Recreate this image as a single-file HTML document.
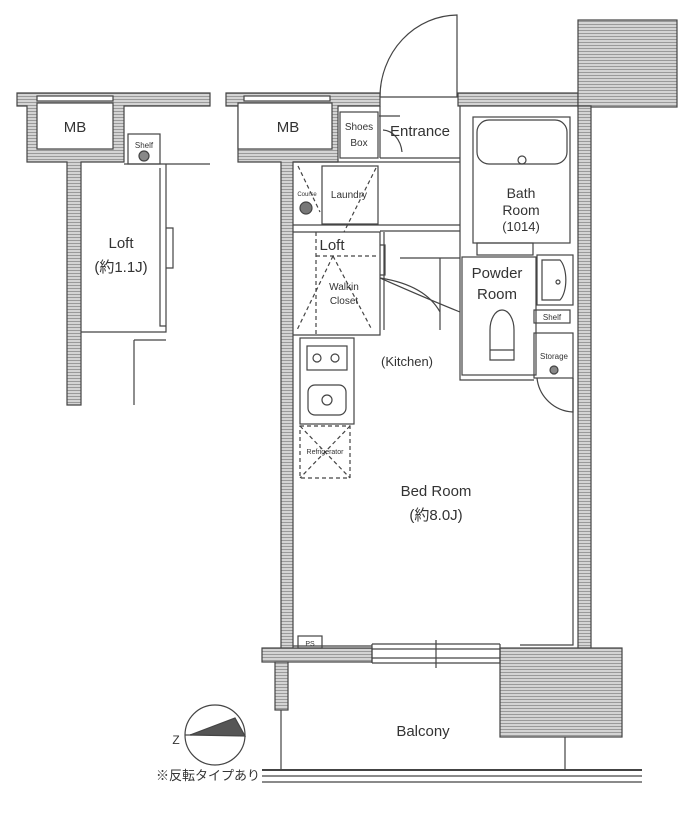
<!DOCTYPE html>
<html><head><meta charset="utf-8"><style>
html,body{margin:0;padding:0;background:#fff;}
svg{display:block;}
text{font-family:"Liberation Sans","Noto Sans CJK JP",sans-serif;fill:#333;}
</style></head><body>
<svg width="700" height="819" viewBox="0 0 700 819" xmlns="http://www.w3.org/2000/svg">
<defs>
<pattern id="h" width="4" height="3" patternUnits="userSpaceOnUse">
<rect width="4" height="3" fill="#d4d4d4"/><rect width="4" height="1" fill="#9a9a9a"/>
</pattern>
</defs>
<g stroke="#444" stroke-width="1.2" fill="none">
<!-- LEFT LOFT PLAN -->
<path d="M17 93 H210 V106 H124 V162 H81 V405 H67 V162 H27 V106 H17 Z" fill="url(#h)"/>
<rect x="37" y="103" width="76" height="46" fill="#fff"/>
<rect x="37" y="96" width="76" height="5" fill="#fff"/>
<rect x="128" y="134" width="32" height="30"/>
<circle cx="144" cy="156" r="5" fill="#888"/>
<path d="M124 164 H210"/>
<path d="M81 332 H166 V164 M160 168 V326 H166 M166 228 H173 V268 H166"/>
<path d="M134 340 V405 M134 340 H166"/>
<!-- MAIN PLAN walls -->
<path d="M226 93 H380 V106 H338 V162 H293 V655 H281 V162 H238 V106 H226 Z" fill="url(#h)"/>
<rect x="238" y="103" width="94" height="46" fill="#fff"/>
<rect x="244" y="96" width="86" height="5" fill="#fff"/>
<rect x="458" y="93" width="120" height="13" fill="url(#h)"/>
<rect x="578" y="20" width="99" height="87" fill="url(#h)"/>
<rect x="578" y="106" width="13" height="546" fill="url(#h)"/>
<path d="M573 378 V645 H520"/>
<!-- door -->
<path d="M380 97 H458 M457 97 V15 A78 82 0 0 0 380 97"/>
<!-- shoes/entrance -->
<rect x="340" y="112" width="38" height="46"/>
<path d="M380 106 V158 M379 116 H400 M383 130 A20 25 0 0 1 402 152"/>
<path d="M380 158 H460 M293 162 H460 M380 225 H460 M380 231 H460"/>
<!-- laundry -->
<rect x="322" y="166" width="56" height="58"/>
<path d="M298 166 L320 212 M376 168 L344 232" stroke-dasharray="4 3"/>
<circle cx="306" cy="208" r="6" fill="#777"/>
<path d="M293 225 H380 M293 232 H380 V335 H293 M384 232 V330 M380 245 H385 V275 H380"/>
<path d="M316 232 V335 M316 256 H376 M333 256 L297 330 M333 256 L372 330" stroke-dasharray="4 3"/>
<!-- wc door -->
<path d="M380 278 Q425 285 440 312 M400 258 H460 M440 330 V258"/>
<path d="M380 278 Q430 300 460 312"/>
<!-- bath -->
<path d="M460 106 V380 H534"/>
<rect x="473" y="117" width="97" height="126"/>
<rect x="477" y="120" width="90" height="44" rx="12"/>
<circle cx="522" cy="160" r="4"/>
<rect x="477" y="243" width="56" height="12"/>
<rect x="462" y="257" width="74" height="118"/>
<rect x="537" y="255" width="36" height="50"/>
<path d="M542 260 H560 A10 22 0 0 1 560 300 H542 Z"/>
<circle cx="558" cy="282" r="2"/>
<path d="M490 360 V330 A12 20 0 0 1 514 330 V360 Z M490 350 H514"/>
<rect x="534" y="310" width="36" height="13"/>
<rect x="534" y="333" width="39" height="45"/>
<circle cx="554" cy="370" r="4" fill="#888"/>
<path d="M537 378 A38 38 0 0 0 573 412 V378"/>
<!-- kitchen -->
<rect x="300" y="338" width="54" height="86"/>
<rect x="307" y="346" width="40" height="24"/>
<circle cx="317" cy="358" r="4"/><circle cx="335" cy="358" r="4"/>
<rect x="308" y="385" width="38" height="30" rx="7"/>
<circle cx="327" cy="400" r="5"/>
<rect x="300" y="426" width="50" height="52" stroke-dasharray="4 3"/>
<path d="M300 426 L350 478 M350 426 L300 478" stroke-dasharray="4 3"/>
<!-- bottom -->
<rect x="262" y="648" width="110" height="14" fill="url(#h)"/>
<rect x="500" y="648" width="122" height="89" fill="url(#h)"/>
<rect x="298" y="636" width="24" height="12"/>
<path d="M293 646 H372 M372 644 H500 M372 649 H500 M372 658 H500 M372 663 H500 M436 640 V668 M372 644 V663 M500 644 V663"/>
<rect x="275" y="662" width="13" height="48" fill="url(#h)"/>
<path d="M281 710 V770 M565 737 V770"/>
<path d="M262 770 H642" stroke-width="2"/>
<path d="M262 776 H642 M262 782 H642"/>
<circle cx="215" cy="735" r="30"/>
<path d="M190 735 L235 718 L245 736 Z" fill="#555"/>
<path d="M185 735 H192"/>
</g>
<g font-size="13" text-anchor="middle">
<text x="75" y="132" font-size="15">MB</text>
<text x="288" y="132" font-size="15">MB</text>
<text x="144" y="148" font-size="8">Shelf</text>
<text x="121" y="248" font-size="15">Loft</text>
<text x="121" y="272" font-size="15">(約1.1J)</text>
<text x="359" y="130" font-size="10">Shoes</text>
<text x="359" y="146" font-size="10">Box</text>
<text x="420" y="136" font-size="15">Entrance</text>
<text x="349" y="198" font-size="10">Laundry</text>
<text x="307" y="196" font-size="6">Course</text>
<text x="332" y="250" font-size="15">Loft</text>
<text x="344" y="290" font-size="10">Walkin</text>
<text x="344" y="304" font-size="10">Closet</text>
<text x="521" y="198" font-size="14">Bath</text>
<text x="521" y="215" font-size="14">Room</text>
<text x="521" y="231" font-size="13">(1014)</text>
<text x="497" y="278" font-size="15">Powder</text>
<text x="497" y="299" font-size="15">Room</text>
<text x="552" y="320" font-size="8">Shelf</text>
<text x="554" y="359" font-size="8">Storage</text>
<text x="407" y="366" font-size="13">(Kitchen)</text>
<text x="325" y="454" font-size="7">Refrigerator</text>
<text x="436" y="496" font-size="15">Bed Room</text>
<text x="436" y="520" font-size="15">(約8.0J)</text>
<text x="310" y="646" font-size="7">PS</text>
<text x="423" y="736" font-size="15">Balcony</text>
<text x="176" y="744" font-size="12">Z</text>
<text x="208" y="780" font-size="13">※反転タイプあり</text>
</g>
</svg>
</body></html>
